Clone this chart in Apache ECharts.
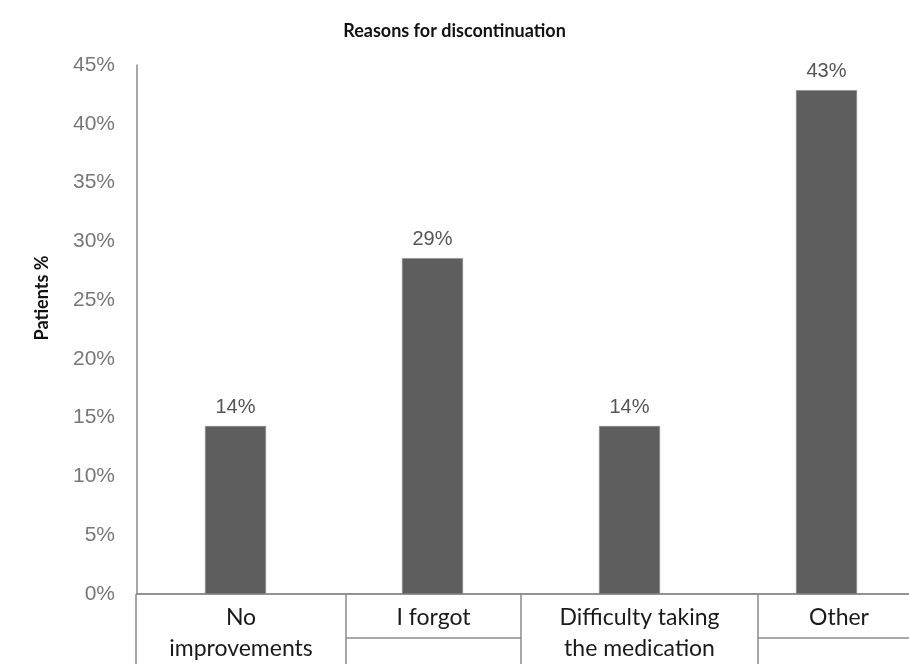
<!DOCTYPE html>
<html>
<head>
<meta charset="utf-8">
<script src="https://cdn.jsdelivr.net/npm/echarts@6/dist/echarts.min.js"></script>
<style>
  html, body { margin: 0; padding: 0; background: #fff; }
  #chart { width: 909px; height: 664px; }
</style>
</head>
<body>
<div id="chart"></div>
<script>
// Reasons patients gave for stopping treatment (share of patients, %)
const categories = ['No\nimprovements', 'I forgot', 'Difficulty taking\nthe medication', 'Other'];
const patientShare = [14.29, 28.57, 14.29, 42.86];
const yTicks = [0, 5, 10, 15, 20, 25, 30, 35, 40, 45];

// Layout of the category table under the plot
const tableEdges = [136, 346, 521, 758, 920];
const tableTop = 594;
const tableRow = 44;
const axisGray = '#8a8a8a';

const chart = echarts.init(document.getElementById('chart'));

const graphics = [];
// rotated y-axis title
graphics.push({
  type: 'text',
  x: 42, y: 298,
  rotation: Math.PI / 2,
  style: {
    text: 'Patients %',
    font: 'bold 18px Lato',
    fill: '#111',
    textAlign: 'center',
    textVerticalAlign: 'middle'
  }
});
// table cells with category names
categories.forEach((name, i) => {
  const x0 = tableEdges[i], x1 = tableEdges[i + 1];
  graphics.push({
    type: 'line',
    shape: { x1: x0, y1: tableTop, x2: x0, y2: 664 },
    style: { stroke: axisGray, lineWidth: 1.5 }
  });
  const lines = name.split('\n');
  if (lines.length === 1) {
    graphics.push({
      type: 'line',
      shape: { x1: x0, y1: tableTop + tableRow, x2: x1, y2: tableTop + tableRow },
      style: { stroke: axisGray, lineWidth: 1.5 }
    });
  }
  graphics.push({
    type: 'text',
    x: (x0 + x1) / 2,
    y: tableTop + 8,
    style: {
      text: name,
      font: '23px Lato',
      fill: '#1a1a1a',
      textAlign: 'center',
      textVerticalAlign: 'top',
      lineHeight: 31
    }
  });
});
// top rule of the table continues to the right edge
graphics.push({
  type: 'line',
  shape: { x1: tableEdges[0], y1: tableTop, x2: 909, y2: tableTop },
  style: { stroke: axisGray, lineWidth: 1.5 }
});

chart.setOption({
  animation: false,
  title: {
    text: 'Reasons for discontinuation',
    left: 'center',
    top: 17,
    textStyle: { fontFamily: 'Lato', fontWeight: 'bold', fontSize: 18, color: '#111' }
  },
  grid: { left: 137, width: 788, top: 65, bottom: 70, containLabel: false, outerBoundsMode: 'none' },
  xAxis: {
    type: 'category',
    data: categories,
    axisLine: { show: true, lineStyle: { color: axisGray, width: 1.5 } },
    axisTick: { show: false },
    axisLabel: { show: false }
  },
  yAxis: {
    type: 'value',
    min: yTicks[0],
    max: yTicks[yTicks.length - 1],
    interval: 5,
    splitLine: { show: false },
    axisLine: { show: true, lineStyle: { color: axisGray, width: 1.5 } },
    axisTick: { show: false },
    axisLabel: {
      margin: 22,
      color: '#777',
      fontFamily: 'Liberation Sans',
      fontSize: 21,
      formatter: v => v + '%'
    }
  },
  series: [{
    type: 'bar',
    data: patientShare,
    barWidth: 61,
    itemStyle: { color: '#5e5e5e', borderColor: '#8c8c8c', borderWidth: 0.6 },
    label: {
      show: true,
      position: 'top',
      distance: 9,
      color: '#555',
      fontFamily: 'Liberation Sans',
      fontSize: 20,
      formatter: p => Math.round(p.value) + '%'
    }
  }],
  graphic: graphics
});
</script>
</body>
</html>
